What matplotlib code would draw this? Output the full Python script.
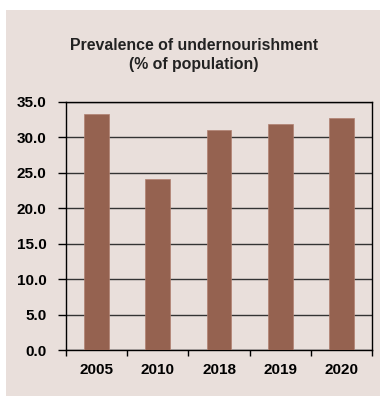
import matplotlib.pyplot as plt
from matplotlib.patches import Rectangle

years = ['2005', '2010', '2018', '2019', '2020']
prevalence = [33.3, 24.1, 31.0, 31.8, 32.7]
y_ticks = [0, 5, 10, 15, 20, 25, 30, 35]

bg = '#E9DFDB'
bar_color = '#956250'

plt.rcParams['font.family'] = ['Liberation Sans', 'DejaVu Sans']

fig = plt.figure(figsize=(3.8, 3.96), dpi=100)
fig.patch.set_facecolor('white')
# shaded panel behind the chart
fig.add_artist(Rectangle((6 / 380, 0), 1 - 6 / 380, 1 - 10 / 396,
                         transform=fig.transFigure, facecolor=bg,
                         edgecolor='none', zorder=-5))

ax = fig.add_axes([65.7 / 380, 1 - 350 / 396, (372.3 - 65.7) / 380, (350 - 101.7) / 396])
ax.set_facecolor(bg)

x = range(len(years))
ax.bar(x, prevalence, width=0.4, color=bar_color, edgecolor='#B08070', linewidth=0.5, zorder=3)

ax.set_xlim(-0.5, len(years) - 0.5)
ax.set_ylim(0, 35)
ax.set_yticks(y_ticks)
ax.set_yticklabels([f'{v:.1f}' for v in y_ticks], fontsize=11, fontweight='bold')
ax.set_xticks(list(x))
ax.set_xticklabels(years, fontsize=11, fontweight='bold')
ax.tick_params(axis='x', length=0, pad=9)
ax.tick_params(axis='y', length=6, width=1, pad=8)

# category boundary ticks on the x axis
ax.set_xticks([i - 0.5 for i in range(len(years) + 1)], minor=True)
ax.tick_params(axis='x', which='minor', length=4, width=1, direction='out')

ax.yaxis.grid(True, color='#333333', linewidth=1)
ax.set_axisbelow(True)
for s in ax.spines.values():
    s.set_linewidth(1)
    s.set_color('black')

fig.text(194 / 380, 1 - 45 / 396, 'Prevalence of undernourishment', ha='center', va='center',
         fontsize=11.4, fontweight='bold', color='#222222')
fig.text(194 / 380, 1 - 64 / 396, '(% of population)', ha='center', va='center',
         fontsize=11.4, fontweight='bold', color='#222222')

fig.savefig('out.png', dpi=100, facecolor='white')
